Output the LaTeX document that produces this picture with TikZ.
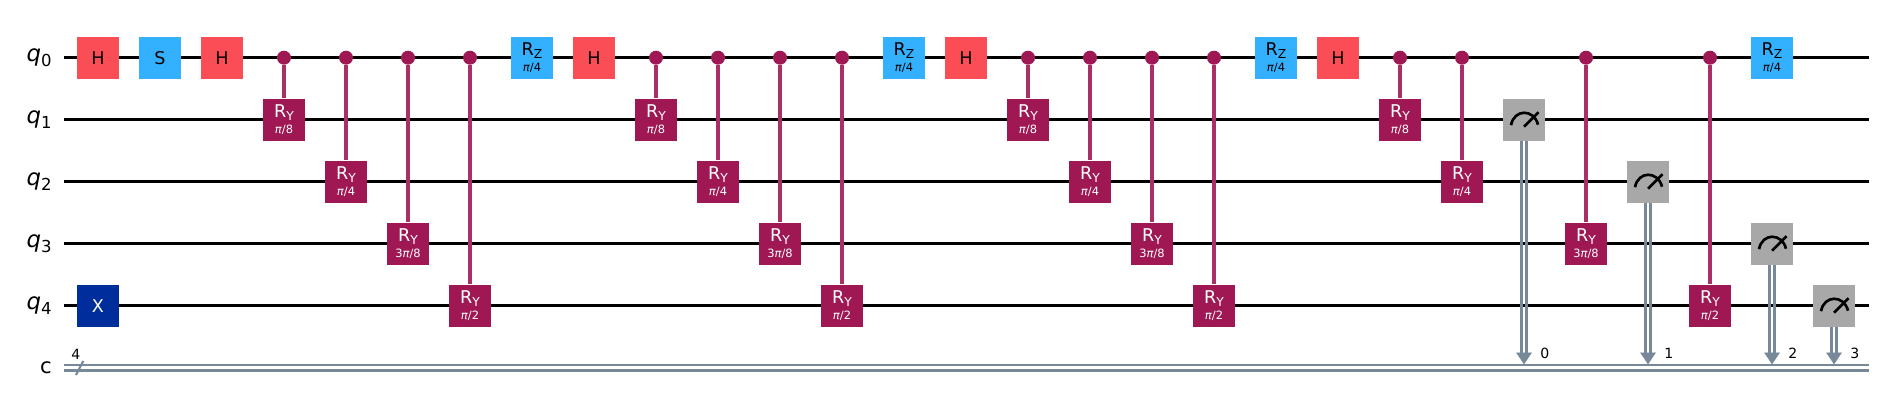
\documentclass[tikz,border=0pt]{standalone}
\usepackage{fontspec}
\setmainfont{DejaVu Sans}
\usetikzlibrary{arrows.meta, positioning}
\definecolor{hred}{HTML}{FA4D56}
\definecolor{sblue}{HTML}{33B1FF}
\definecolor{xblue}{HTML}{002D9C}
\definecolor{rymag}{HTML}{9F1853}
\definecolor{mgray}{HTML}{A8A8A8}
\definecolor{cgray}{HTML}{778899}
\tikzset{
  gate/.style={minimum size=.84cm, inner sep=0pt, align=center, font=\fontsize{10}{10}\selectfont},
  hgate/.style={gate, fill=hred},
  sgate/.style={gate, fill=sblue},
  xgate/.style={gate, fill=xblue, text=white},
  rygate/.style={gate, fill=rymag, text=white},
  mgate/.style={gate, fill=mgray, path picture={
    \draw[line width=1.5pt, shift={(path picture bounding box.center)}]
      (-.26,-.11) .. controls (-.2,.22) and (.2,.22) .. (.28,-.1)
      (0,-.14) -- (.29,.15);
  }},
  ctrl/.style={circle, fill=rymag, minimum size=.28cm, inner sep=0pt},
  wire/.style={line width=1.6pt, black},
  ctrlwire/.style={line width=1.8pt, rymag!90!white},
  cwire/.style={line width=1.5pt, cgray, double=white, double distance=1.7pt},
  mwire/.style={draw=none, postaction={draw=cgray, line width=1.6pt, transform canvas={xshift=-.055cm}},
    postaction={draw=cgray, line width=1.6pt, transform canvas={xshift=.055cm}}},
  mtip/.style={line width=.1pt, cgray, -{Triangle[width=.31cm, length=.23cm, sep=0pt]}},
  qlabel/.style={inner sep=0pt, font=\fontsize{13}{13}\selectfont},
  bitlabel/.style={inner sep=0pt, font=\fontsize{8}{8}\selectfont}
}
\newcommand{\qname}[1]{\textit{q}\raisebox{-.35ex}{\fontsize{9.4}{10}\selectfont #1}}
\newcommand{\rot}[3]{R\raisebox{-.3ex}{\fontsize{7}{7}\selectfont #1}\\[-1pt] {\fontsize{6.5}{7}\selectfont #2\textit{π}/#3}}

\begin{document}
\begin{tikzpicture}[node distance=1.24cm]
% wires
\coordinate (w0) at (0,0);
\coordinate[below of=w0] (w1);
\coordinate[below of=w1] (w2);
\coordinate[below of=w2] (w3);
\coordinate[below of=w3] (w4);
\coordinate[below of=w4] (w5);
\useasboundingbox ([shift={(-1.27,1.154)}]w0) rectangle ++(37.62,-8.2);
\coordinate[right of=w0, node distance=36.11cm] (e0);
\coordinate[right of=w1, node distance=36.11cm] (e1);
\coordinate[right of=w2, node distance=36.11cm] (e2);
\coordinate[right of=w3, node distance=36.11cm] (e3);
\coordinate[right of=w4, node distance=36.11cm] (e4);
\coordinate[right of=w5, node distance=36.11cm] (e5);
\draw[wire] (w0) -- (e0);
\draw[wire] (w1) -- (e1);
\draw[wire] (w2) -- (e2);
\draw[wire] (w3) -- (e3);
\draw[wire] (w4) -- (e4);
\draw[cwire] (w5) -- (e5);

\node[qlabel, left=.23cm of w0] (q0) {\qname{0}};
\node[qlabel, left=.23cm of w1] (q1) {\qname{1}};
\node[qlabel, left=.23cm of w2] (q2) {\qname{2}};
\node[qlabel, left=.23cm of w3] (q3) {\qname{3}};
\node[qlabel, left=.23cm of w4] (q4) {\qname{4}};
\node[qlabel, left=.23cm of w5, font=\fontsize{12}{12}\selectfont] (clabel) {c};
\coordinate (slash a) at ([shift={(.25,-.146)}]w5);
\coordinate (slash b) at ([shift={(.396,.134)}]w5);
\draw[line width=1.2pt, cgray] (slash a) -- (slash b);
\node[bitlabel] (csize) at ([shift={(.245,.27)}]w5) {4};

% first block
\node[hgate, right of=w0, node distance=.69cm] (h1) {H};
\node[xgate, below of=h1, node distance=4.96cm] (x1) {X};
\node[sgate, right of=h1] (s1) {S};
\node[hgate, right of=s1] (h2) {H};
\node[ctrl, right of=h2] (c1) {};
\node[ctrl, right of=c1] (c2) {};
\node[ctrl, right of=c2] (c3) {};
\node[ctrl, right of=c3] (c4) {};
\node[rygate, below of=c1] (ry1) {\rot{Y}{}{8}};
\node[rygate, below of=c2, node distance=2.48cm] (ry2) {\rot{Y}{}{4}};
\node[rygate, below of=c3, node distance=3.72cm] (ry3) {\rot{Y}{3}{8}};
\node[rygate, below of=c4, node distance=4.96cm] (ry4) {\rot{Y}{}{2}};
\node[sgate, right of=c4] (rz1) {\rot{Z}{}{4}};
\draw[ctrlwire] (c1) -- (ry1);
\draw[ctrlwire] (c2) -- (ry2);
\draw[ctrlwire] (c3) -- (ry3);
\draw[ctrlwire] (c4) -- (ry4);

% second block
\node[hgate, right of=rz1] (h3) {H};
\node[ctrl, right of=h3] (c5) {};
\node[ctrl, right of=c5] (c6) {};
\node[ctrl, right of=c6] (c7) {};
\node[ctrl, right of=c7] (c8) {};
\node[rygate, below of=c5] (ry5) {\rot{Y}{}{8}};
\node[rygate, below of=c6, node distance=2.48cm] (ry6) {\rot{Y}{}{4}};
\node[rygate, below of=c7, node distance=3.72cm] (ry7) {\rot{Y}{3}{8}};
\node[rygate, below of=c8, node distance=4.96cm] (ry8) {\rot{Y}{}{2}};
\node[sgate, right of=c8] (rz2) {\rot{Z}{}{4}};
\draw[ctrlwire] (c5) -- (ry5);
\draw[ctrlwire] (c6) -- (ry6);
\draw[ctrlwire] (c7) -- (ry7);
\draw[ctrlwire] (c8) -- (ry8);

% third block
\node[hgate, right of=rz2] (h4) {H};
\node[ctrl, right of=h4] (c9) {};
\node[ctrl, right of=c9] (c10) {};
\node[ctrl, right of=c10] (c11) {};
\node[ctrl, right of=c11] (c12) {};
\node[rygate, below of=c9] (ry9) {\rot{Y}{}{8}};
\node[rygate, below of=c10, node distance=2.48cm] (ry10) {\rot{Y}{}{4}};
\node[rygate, below of=c11, node distance=3.72cm] (ry11) {\rot{Y}{3}{8}};
\node[rygate, below of=c12, node distance=4.96cm] (ry12) {\rot{Y}{}{2}};
\node[sgate, right of=c12] (rz3) {\rot{Z}{}{4}};
\draw[ctrlwire] (c9) -- (ry9);
\draw[ctrlwire] (c10) -- (ry10);
\draw[ctrlwire] (c11) -- (ry11);
\draw[ctrlwire] (c12) -- (ry12);

% last block with the measurements
\node[hgate, right of=rz3] (h5) {H};
\node[ctrl, right of=h5] (c13) {};
\node[ctrl, right of=c13] (c14) {};
\node[ctrl, right of=c14, node distance=2.48cm] (c15) {};
\node[ctrl, right of=c15, node distance=2.48cm] (c16) {};
\node[rygate, below of=c13] (ry13) {\rot{Y}{}{8}};
\node[rygate, below of=c14, node distance=2.48cm] (ry14) {\rot{Y}{}{4}};
\node[rygate, below of=c15, node distance=3.72cm] (ry15) {\rot{Y}{3}{8}};
\node[rygate, below of=c16, node distance=4.96cm] (ry16) {\rot{Y}{}{2}};
\node[sgate, right of=c16] (rz4) {\rot{Z}{}{4}};
\draw[ctrlwire] (c13) -- (ry13);
\draw[ctrlwire] (c14) -- (ry14);
\draw[ctrlwire] (c15) -- (ry15);
\draw[ctrlwire] (c16) -- (ry16);

\node[mgate, right of=ry13, node distance=2.48cm] (m0) {};
\node[mgate, right of=ry14, node distance=3.72cm] (m1) {};
\node[mgate, right of=ry15, node distance=3.72cm] (m2) {};
\node[mgate, right of=ry16, node distance=2.48cm] (m3) {};
\coordinate (b0) at ([yshift=.07cm]m0 |- w5);
\coordinate (b1) at ([yshift=.07cm]m1 |- w5);
\coordinate (b2) at ([yshift=.07cm]m2 |- w5);
\coordinate (b3) at ([yshift=.07cm]m3 |- w5);
\coordinate[above of=b0, node distance=.22cm] (a0);
\coordinate[above of=b1, node distance=.22cm] (a1);
\coordinate[above of=b2, node distance=.22cm] (a2);
\coordinate[above of=b3, node distance=.22cm] (a3);
\draw[mwire] (m0) -- (a0);
\draw[mwire] (m1) -- (a1);
\draw[mwire] (m2) -- (a2);
\draw[mwire] (m3) -- (a3);
\draw[mtip] (a0) -- (b0);
\draw[mtip] (a1) -- (b1);
\draw[mtip] (a2) -- (b2);
\draw[mtip] (a3) -- (b3);
\node[bitlabel, above right=.1cm and .32cm of b0] (bit0) {0};
\node[bitlabel, above right=.1cm and .32cm of b1] (bit1) {1};
\node[bitlabel, above right=.1cm and .32cm of b2] (bit2) {2};
\node[bitlabel, above right=.1cm and .32cm of b3] (bit3) {3};
\end{tikzpicture}
\end{document}
